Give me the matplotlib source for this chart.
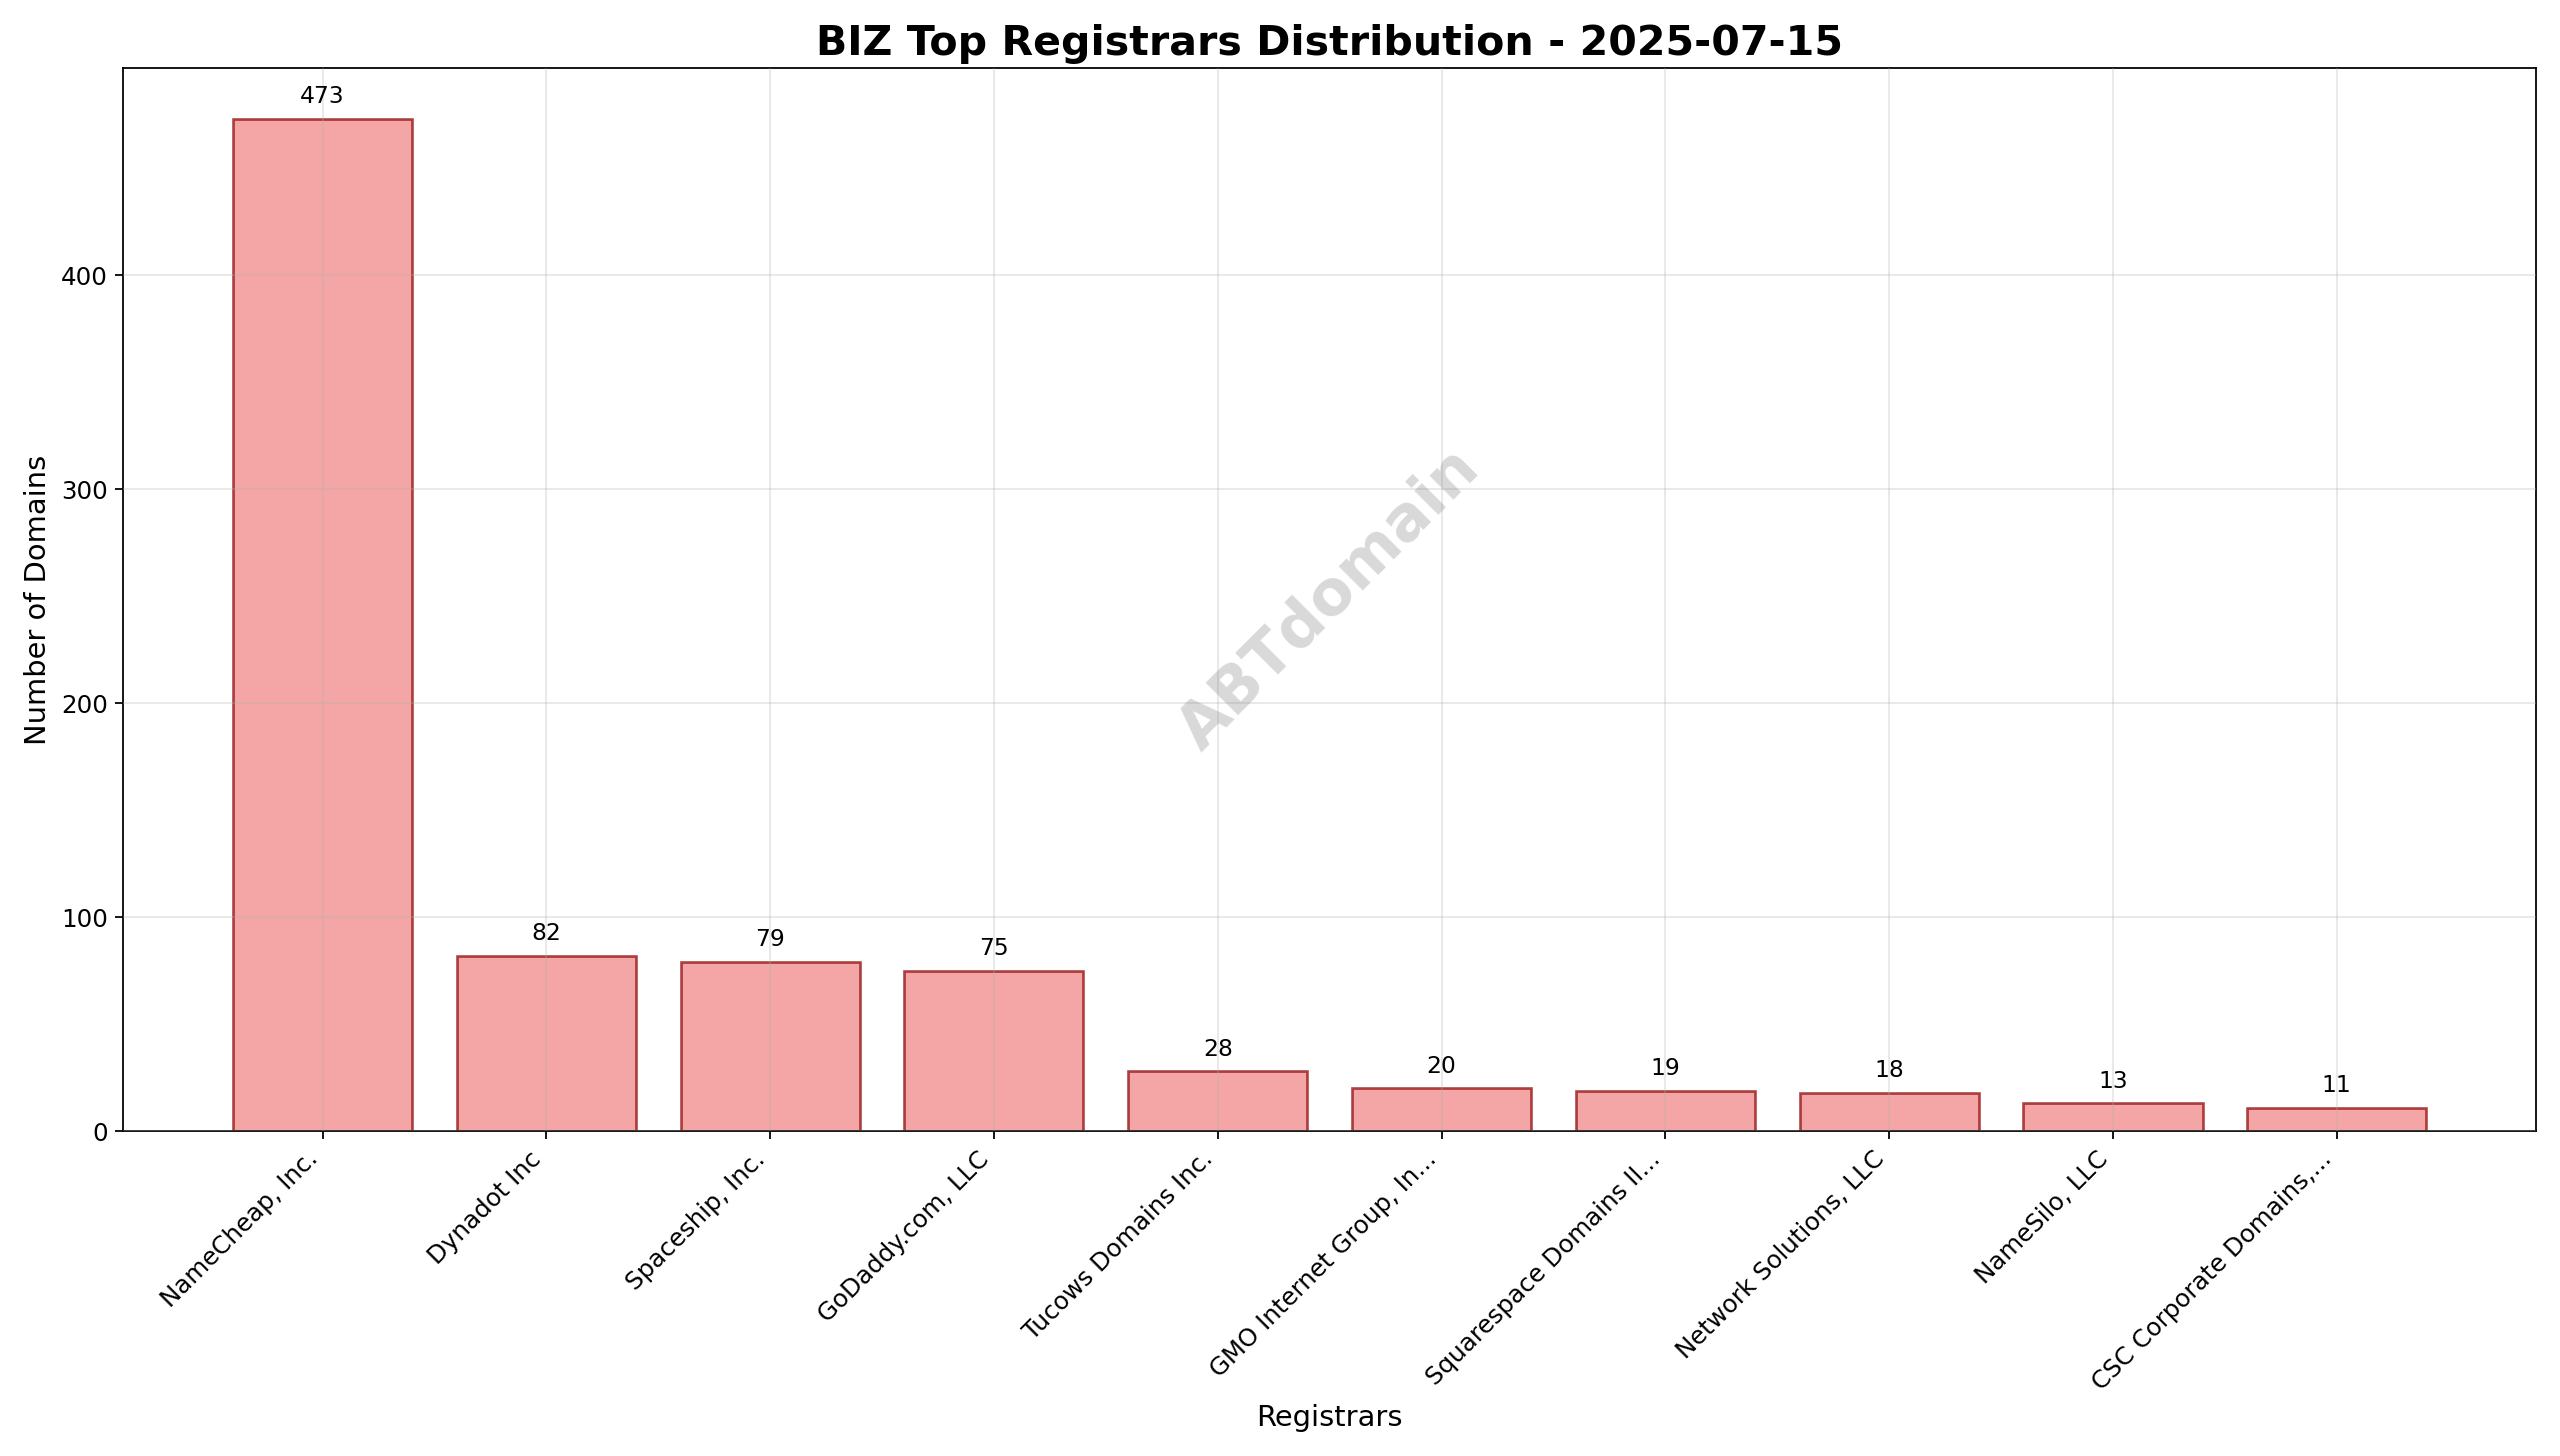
import matplotlib
matplotlib.use("Agg")
import matplotlib.pyplot as plt

registrars = ["NameCheap, Inc.", "Dynadot Inc", "Spaceship, Inc.", "GoDaddy.com, LLC",
              "Tucows Domains Inc.", "GMO Internet Group, In...", "Squarespace Domains II...",
              "Network Solutions, LLC", "NameSilo, LLC", "CSC Corporate Domains,..."]
counts = [473, 82, 79, 75, 28, 20, 19, 18, 13, 11]

fig, ax = plt.subplots(figsize=(16, 9.1), dpi=160)
x = range(len(registrars))
bars = ax.bar(x, counts, color="lightcoral", alpha=0.7, edgecolor="darkred", linewidth=1.2)
for b, v in zip(bars, counts):
    ax.text(b.get_x() + b.get_width() / 2, v + 5, str(v), ha="center", va="bottom", fontsize=10.5)
ax.set_xticks(list(x))
ax.set_xticklabels(registrars, rotation=45, ha="right", fontsize=11)
ax.tick_params(axis="y", labelsize=11)
ax.set_xlabel("Registrars", fontsize=13)
ax.set_ylabel("Number of Domains", fontsize=13)
ax.set_title("BIZ Top Registrars Distribution - 2025-07-15", fontsize=18.5, fontweight="bold")
ax.grid(True, alpha=0.3)
ax.set_axisbelow(False)
ax.text(0.5, 0.5, "ABTdomain", transform=ax.transAxes, fontsize=28, color="gray",
        alpha=0.3, rotation=45, ha="center", va="center", fontweight="bold")
plt.tight_layout()
fig.savefig("out.png", dpi=160)
